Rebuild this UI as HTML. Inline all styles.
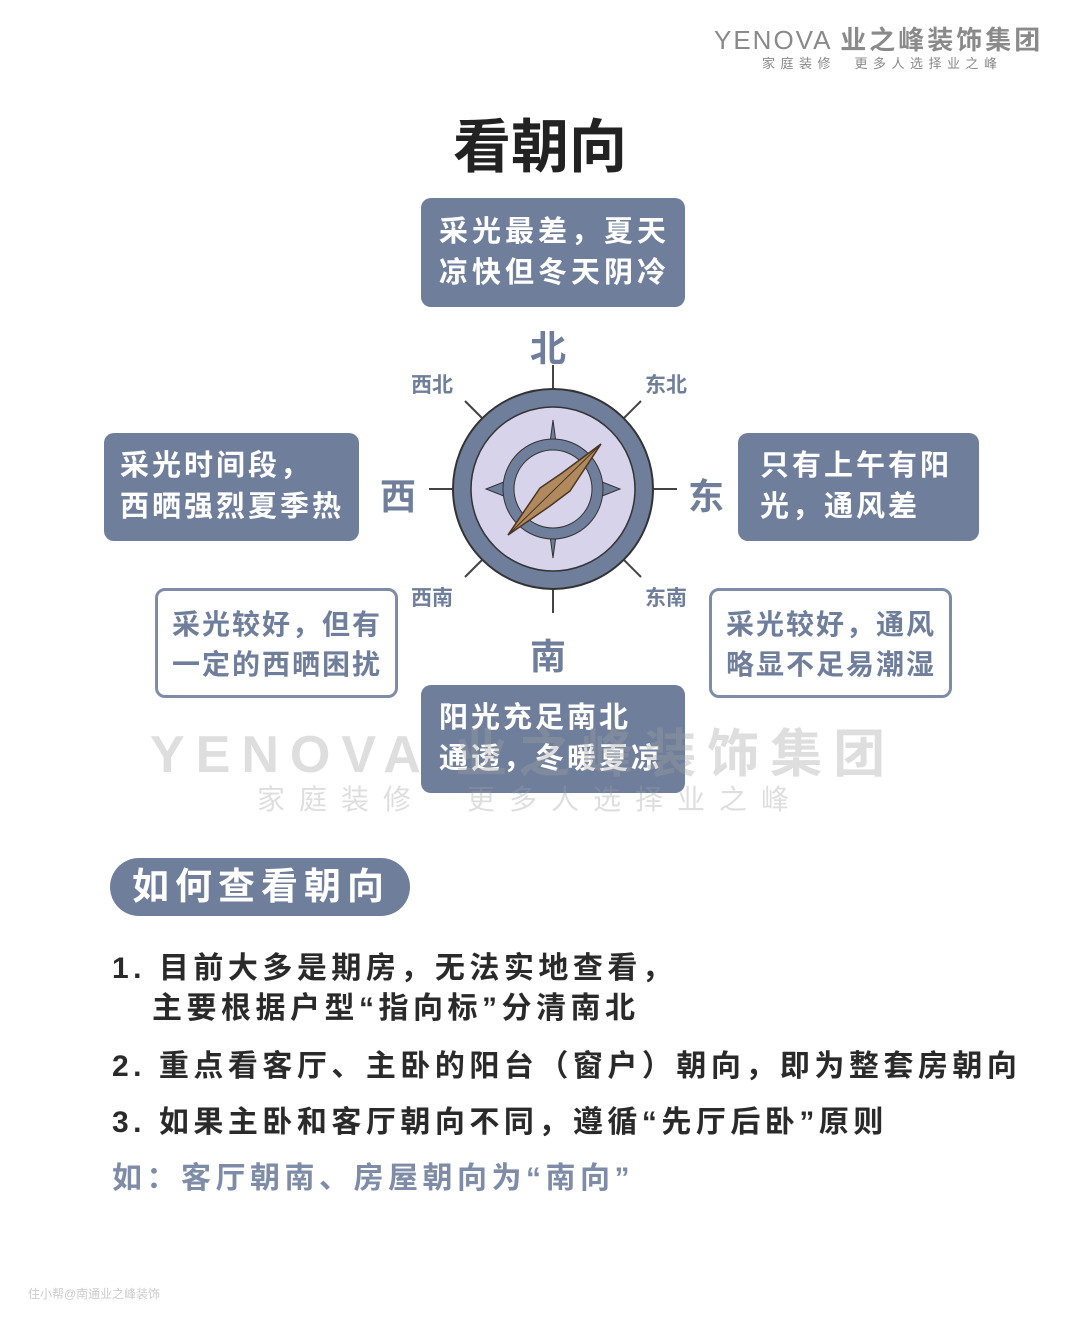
<!DOCTYPE html>
<html><head><meta charset="utf-8"><style>
body{margin:0;width:1080px;height:1331px;background:#fff;position:relative;overflow:hidden;font-family:"Liberation Sans","Noto Sans CJK SC",sans-serif}
.a{position:absolute}
.box{position:absolute;border-radius:10px;background:#6f7e9b;color:#fff;font-weight:bold;font-size:29px;line-height:41px;box-sizing:border-box;letter-spacing:3px}
.ob{position:absolute;border-radius:10px;border:3px solid #7f8ca7;color:#6f7e9b;font-weight:bold;font-size:28px;line-height:40px;box-sizing:border-box;letter-spacing:2px;background:#fff}
.dir{position:absolute;color:#6f7e9b;font-weight:bold}
.t{position:absolute;font-size:30px;font-weight:bold;color:#2a2a2a;letter-spacing:4.5px}
</style></head><body>
<div class="a" style="left:714px;top:20px;font-size:26px;color:#8a8a8a;letter-spacing:2px">YENOVA <span style="font-weight:bold;letter-spacing:3px">业之峰装饰集团</span></div>
<div class="a" style="left:762px;top:53px;font-size:13px;color:#888;letter-spacing:5.5px">家庭装修　更多人选择业之峰</div>
<div class="a" style="left:453px;top:100px;font-size:58px;font-weight:bold;color:#222">看朝向</div>

<div class="box" style="left:421px;top:198px;width:264px;height:109px;padding:14px 0 0 18px;letter-spacing:4px">采光最差，夏天<br>凉快但冬天阴冷</div>
<div class="box" style="left:104px;top:433px;width:255px;height:108px;padding:13px 0 0 16px">采光时间段，<br>西晒强烈夏季热</div>
<div class="box" style="left:738px;top:433px;width:241px;height:108px;padding:13px 0 0 22px">只有上午有阳<br>光，通风差</div>
<div class="ob" style="left:155px;top:588px;width:243px;height:110px;padding:14px 0 0 14px">采光较好，但有<br>一定的西晒困扰</div>
<div class="ob" style="left:709px;top:588px;width:243px;height:110px;padding:14px 0 0 14px">采光较好，通风<br>略显不足易潮湿</div>
<div class="box" style="left:421px;top:685px;width:264px;height:108px;padding:13px 0 0 18px">阳光充足南北<br>通透，冬暖夏凉</div>

<svg class="a" style="left:0;top:0" width="1080" height="1331">
<g stroke="#444" stroke-width="2">
<line x1="553" y1="365" x2="553" y2="389"/><line x1="553" y1="589" x2="553" y2="613"/>
<line x1="429" y1="489" x2="453" y2="489"/><line x1="653" y1="489" x2="677" y2="489"/>
<line x1="465" y1="401" x2="482" y2="418"/><line x1="641" y1="401" x2="624" y2="418"/>
<line x1="465" y1="577" x2="482" y2="560"/><line x1="641" y1="577" x2="624" y2="560"/>
</g>
<circle cx="553" cy="489" r="100" fill="#6f7e9b" stroke="#333" stroke-width="2"/>
<circle cx="553" cy="489" r="82" fill="#d6d3ea" stroke="#333" stroke-width="1.5"/>
<path d="M553 420 L559 465 L620 489 L559 513 L553 558 L547 513 L486 489 L547 465Z" fill="#6f7e9b" stroke="#333" stroke-width="1"/>
<circle cx="553" cy="489" r="50" fill="#6f7e9b" stroke="#333" stroke-width="1"/>
<circle cx="553" cy="489" r="39" fill="#d6d3ea" stroke="#333" stroke-width="1"/>
<path d="M601 444 L570 491 L550 506 L508 535 L540 488 L562 473Z" fill="#b08a5e" stroke="#4a3420" stroke-width="1.5"/>
<line x1="601" y1="444" x2="508" y2="535" stroke="#4a3420" stroke-width="1"/>
</svg>

<div class="dir" style="left:530px;top:320px;font-size:36px">北</div>
<div class="dir" style="left:530px;top:628px;font-size:36px">南</div>
<div class="dir" style="left:380px;top:468px;font-size:36px">西</div>
<div class="dir" style="left:688px;top:468px;font-size:36px">东</div>
<div class="dir" style="left:411px;top:369px;font-size:21px">西北</div>
<div class="dir" style="left:645px;top:369px;font-size:21px">东北</div>
<div class="dir" style="left:411px;top:582px;font-size:21px">西南</div>
<div class="dir" style="left:645px;top:582px;font-size:21px">东南</div>

<div class="a" style="left:150px;top:712px;font-size:52px;color:rgba(160,160,160,.35);font-weight:bold;letter-spacing:11px">YENOVA 业之峰装饰集团</div>
<div class="a" style="left:257px;top:778px;font-size:28px;color:rgba(160,160,160,.35);letter-spacing:14px">家庭装修　更多人选择业之峰</div>

<div class="a" style="left:110px;top:858px;width:300px;height:58px;border-radius:29px;background:#6f7e9b;color:#fff;font-size:37px;font-weight:bold;line-height:58px;padding-left:22px;box-sizing:border-box;letter-spacing:6px">如何查看朝向</div>

<div class="t" style="left:112px;top:943px">1. 目前大多是期房，无法实地查看，</div>
<div class="t" style="left:152px;top:983px">主要根据户型“指向标”分清南北</div>
<div class="t" style="left:112px;top:1041px">2. 重点看客厅、主卧的阳台（窗户）朝向，即为整套房朝向</div>
<div class="t" style="left:112px;top:1097px">3. 如果主卧和客厅朝向不同，遵循“先厅后卧”原则</div>
<div class="t" style="left:112px;top:1153px;color:#7f8ca7">如：客厅朝南、房屋朝向为“南向”</div>
<div class="a" style="left:28px;top:1285px;font-size:12px;color:#ccc">住小帮@南通业之峰装饰</div>
</body></html>
